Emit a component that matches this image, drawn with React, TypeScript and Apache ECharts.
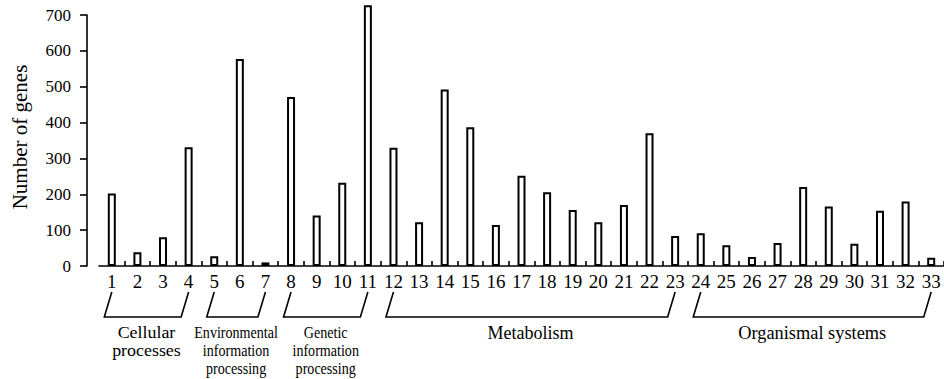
import React, { useEffect, useRef } from "react";
import * as echarts from "echarts";

const categories = [
  "1", "2", "3", "4", "5", "6", "7", "8", "9", "10", "11",
  "12", "13", "14", "15", "16", "17", "18", "19", "20", "21", "22",
  "23", "24", "25", "26", "27", "28", "29", "30", "31", "32", "33",
];
const geneCounts = [
  202, 38, 80, 331, 27, 577, 10, 471, 141, 232, 727,
  330, 122, 492, 387, 114, 252, 206, 156, 122, 170, 370,
  84, 91, 58, 25, 64, 220, 166, 62, 154, 180, 23,
];
const yMin = 0;
const yMax = 700;
const yInterval = 100;
const yAxisTitle = "Number of genes";

const groupLabels = [
  ["Cellular", "processes"],
  ["Environmental", "information", "processing"],
  ["Genetic", "information", "processing"],
  ["Metabolism"],
  ["Organismal systems"],
];
const groupFirst = ["1", "5", "8", "12", "24"];
const groupLast = ["4", "7", "11", "23", "33"];

// presentation of each group label: [fontSize, horizontal scale]
const groupTextLook: [number, number][] = [
  [16, 1.12],
  [16, 0.88],
  [16, 0.88],
  [18, 1],
  [18, 1.02],
];

const FONT = "Liberation Serif, serif";

export default function App() {
  const ref = useRef<HTMLDivElement>(null);

  useEffect(() => {
    if (!ref.current) return;
    const chart = echarts.init(ref.current, undefined, { renderer: "svg" });
    chart.setOption({
      animation: false,
      backgroundColor: "#ffffff",
      textStyle: { fontFamily: FONT },
      grid: { left: 99, right: 0, top: 15, bottom: 113, containLabel: false },
      xAxis: {
        type: "category",
        data: categories,
        boundaryGap: true,
        axisLine: { show: true, lineStyle: { color: "#000", width: 1.6 } },
        axisTick: {
          show: true,
          inside: true,
          length: 5,
          interval: (i: number) => i !== 0,
          lineStyle: { color: "#000", width: 1.6 },
        },
        axisLabel: {
          show: true,
          interval: 0,
          color: "#000",
          fontFamily: FONT,
          fontSize: 19,
          margin: 6,
        },
        splitLine: { show: false },
      },
      yAxis: {
        type: "value",
        min: yMin,
        max: yMax,
        interval: yInterval,
        offset: 12,
        axisLine: { show: true, lineStyle: { color: "#000", width: 1.6 } },
        axisTick: { show: true, inside: false, length: 7, lineStyle: { color: "#000", width: 1.6 } },
        axisLabel: { color: "#000", fontFamily: FONT, fontSize: 17, margin: 16 },
        splitLine: { show: false },
      },
      series: [
        {
          type: "bar",
          data: geneCounts,
          barWidth: 8,
          clip: false,
          itemStyle: { color: "#ffffff", borderColor: "#000", borderWidth: 2 },
        },
      ],
    });

    const y0 = chart.convertToPixel({ yAxisIndex: 0 }, 0) as number;
    const graphics: any[] = [];
    groupLabels.forEach((lines, g) => {
      const x1 = chart.convertToPixel({ xAxisIndex: 0 }, groupFirst[g]) as number;
      const x2 = chart.convertToPixel({ xAxisIndex: 0 }, groupLast[g]) as number;
      const topY = y0 + 26;
      const botY = y0 + 51;
      const slant = 7.5;
      const [fs, sx] = groupTextLook[g];
      graphics.push({
        type: "polyline",
        shape: {
          points: [
            [x1, topY],
            [x1 - slant, botY],
            [x2 - slant, botY],
            [x2, topY],
          ],
        },
        style: { stroke: "#000", lineWidth: 1.6, fill: null },
        silent: true,
      });
      graphics.push({
        type: "text",
        x: (x1 + x2) / 2 - slant / 2,
        y: y0 + 58,
        scaleX: sx,
        silent: true,
        style: {
          text: lines.join("\n"),
          fill: "#000",
          fontFamily: FONT,
          fontSize: fs,
          lineHeight: 17.8,
          align: "center",
          verticalAlign: "top",
        },
      });
    });
    graphics.push({
      type: "text",
      x: 20,
      y: 137,
      rotation: Math.PI / 2,
      silent: true,
      style: {
        text: yAxisTitle,
        fill: "#000",
        fontFamily: FONT,
        fontSize: 21,
        align: "center",
        verticalAlign: "middle",
      },
    });
    chart.setOption({ graphic: graphics });

    return () => chart.dispose();
  }, []);

  return (
    <div
      ref={ref}
      style={{ position: "fixed", left: 0, top: 0, width: 944, height: 379, background: "#fff" }}
    />
  );
}
